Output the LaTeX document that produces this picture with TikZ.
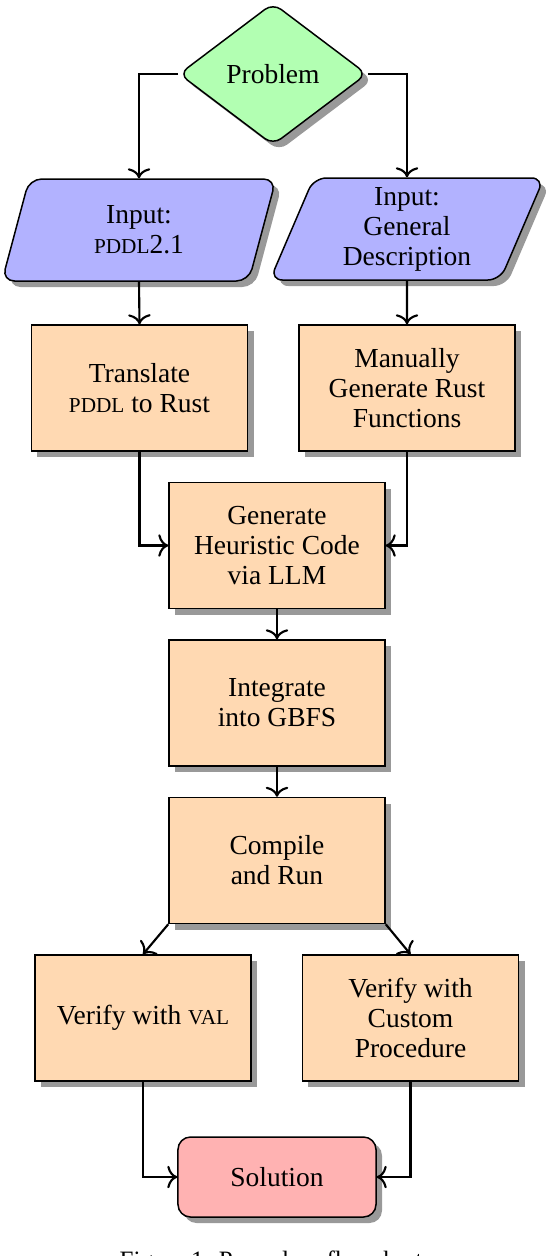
\documentclass[tikz,border=0pt]{standalone}
\usepackage{fontspec}
\setmainfont{Liberation Serif}
\usetikzlibrary{shapes.geometric,shadows,arrows.meta}
\newcommand{\fsc}[1]{{\fontsize{8.5}{12}\selectfont #1}}
\begin{document}
\begin{tikzpicture}[x=0.4pt,y=-0.4pt,
  base/.style={draw=black, line width=0.6pt, align=center,
    font=\fontsize{11}{12}\selectfont, inner sep=2pt,
    drop shadow={shadow xshift=2.4pt, shadow yshift=-2.4pt, fill=black!40, opacity=1}},
  decision/.style={base, diamond, aspect=1.32, minimum width=75.2pt,
    minimum height=56.8pt, inner sep=0pt, rounded corners=4pt, fill=green!30},
  iobox/.style={base, trapezium, trapezium left angle=65, trapezium right angle=115,
    trapezium stretches body, minimum width=109.6pt, minimum height=40.8pt,
    rounded corners=5pt, fill=blue!30},
  procbox/.style={base, rectangle, minimum width=86.4pt, minimum height=50.4pt,
    fill=orange!30},
  endbox/.style={base, rectangle, rounded corners=5pt, minimum width=79.2pt,
    minimum height=32pt, fill=red!30},
  conn/.style={line width=0.85pt, -{To[length=4pt,width=9pt]}}
]
\useasboundingbox (0,0) rectangle (550,1256);

\node[decision] (problem) at (273,74) {Problem};
\node[iobox] (in1) at (139,230) {Input:\\\fsc{PDDL}2.1};
\node[iobox] (in2) at (407,229) {Input:\\General\\Description};
\node[procbox] (trans) at (139.5,388) {Translate\\\fsc{PDDL} to Rust};
\node[procbox] (manual) at (407,388) {Manually\\Generate Rust\\Functions};
\node[procbox] (gen) at (277,545.5) {Generate\\Heuristic Code\\via LLM};
\node[procbox] (integ) at (277,703) {Integrate\\into GBFS};
\node[procbox] (comp) at (277,860.5) {Compile\\and Run};
\node[procbox] (val) at (143,1018) {Verify with \fsc{VAL}};
\node[procbox] (custom) at (410.5,1018) {Verify with\\Custom\\Procedure};
\node[endbox] (sol) at (277,1177) {Solution};

\node[anchor=base, font=\fontsize{10}{12}\selectfont, inner sep=0pt] (cap) at (271,1268) {Figure 1: Procedure flowchart};

\draw[conn] (problem.west) -| (in1.north);
\draw[conn] (problem.east) -| (in2.north);
\draw[conn] (in1.south) -- (trans.north);
\draw[conn] (in2.south) -- (manual.north);
\draw[conn] (trans.south) |- (gen.west);
\draw[conn] (manual.south) |- (gen.east);
\draw[conn] (gen.south) -- (integ.north);
\draw[conn] (integ.south) -- (comp.north);
\draw[conn] (comp.south west) -- (val.north);
\draw[conn] (comp.south east) -- (custom.north);
\draw[conn] (val.south) |- (sol.west);
\draw[conn] (custom.south) |- (sol.east);
\end{tikzpicture}
\end{document}
